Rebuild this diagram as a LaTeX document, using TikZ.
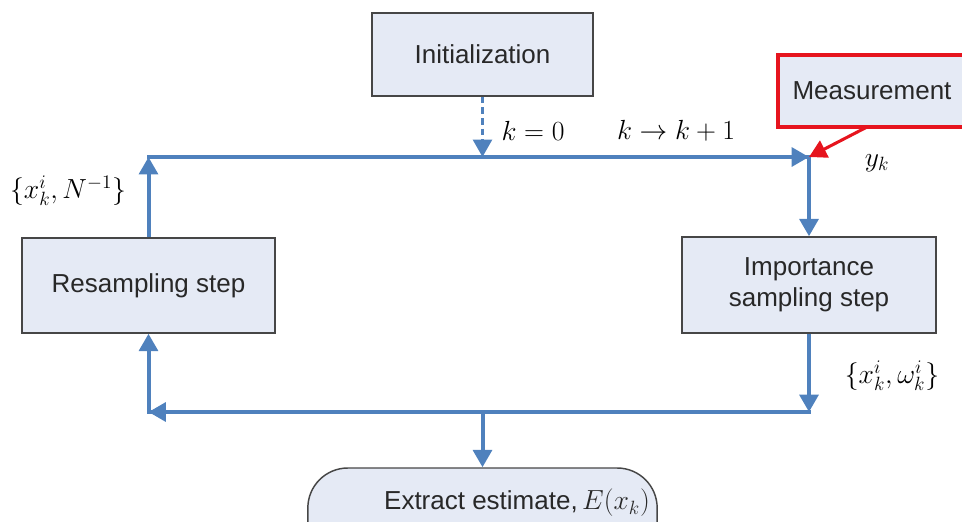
\documentclass[tikz,border=0pt]{standalone}
\usepackage{fontspec}
\setmainfont{Liberation Sans}
\usetikzlibrary{arrows.meta}
\definecolor{flowblue}{RGB}{79,129,189}
\definecolor{boxfill}{RGB}{229,234,245}
\definecolor{boxedge}{RGB}{70,70,70}
\definecolor{boxtext}{RGB}{40,40,40}
\definecolor{measred}{RGB}{230,20,30}
\tikzset{
  stepbox/.style={draw=boxedge, line width=1.1pt, fill=boxfill, inner sep=0pt,
    text=boxtext, font=\fontsize{19.5}{23}\selectfont, align=center},
  tip/.style={-{Triangle[length=13pt,width=14pt]}},
  flow/.style={draw=flowblue, line width=3pt, tip},
  flowline/.style={draw=flowblue, line width=3pt, line cap=rect},
  mathlbl/.style={inner sep=0pt, font=\fontsize{21.5}{26}\selectfont},
  smalllbl/.style={inner sep=0pt, font=\fontsize{20}{24}\selectfont},
}
\begin{document}
\begin{tikzpicture}[x=0.75pt,y=-0.75pt]
\useasboundingbox (0,0) rectangle (962,521);
\clip (0,0) rectangle (962,521);

% process boxes
\node[stepbox, minimum width=165.75pt, minimum height=62.25pt] (init) at (482.5,54.5) {Initialization};
\node[stepbox, draw=measred, line width=2.3pt, minimum width=141pt, minimum height=54pt] (meas) at (872,91) {Measurement};
\node[stepbox, minimum width=190.5pt, minimum height=72pt] (imp) at (809,285) {Importance\\sampling step};
\node[stepbox, minimum width=189.75pt, minimum height=71.25pt] (res) at (148.5,285.5) {Resampling step};
\node[stepbox, rounded corners=30pt, minimum width=262pt, minimum height=75pt] (est) at (482.5,518) {};
\node[inner sep=0pt, text=boxtext, font=\fontsize{19.5}{23}\selectfont] (esttxt) at (517,503) {Extract estimate,\,$E(x_k)$};

% loop corners
\coordinate (tl) at (148.5,157);
\coordinate (tm) at (482.5,157);
\coordinate (tr) at (809,157);
\coordinate (br) at (809,412);
\coordinate (bm) at (482.5,412);
\coordinate (bl) at (148.5,412);
\coordinate (measfoot) at (867,127);

% connectors
\draw[flow, dash pattern=on 5pt off 3pt, line width=2.5pt, line cap=butt] (init.south) -- (tm);
\draw[flowline] (tl) -- (tr);
\draw[flow] (tm) -- (tr);
\draw[flow] (tr) -- (imp.north);
\draw[flow] (imp.south) -- (br);
\draw[flowline] (br) -- (bl);
\draw[flow] (br) -- (bl);
\draw[flow] (bm) -- (est.north);
\draw[flow] (bl) -- (res.south);
\draw[flow] (res.north) -- (tl);
\draw[draw=measred, line width=2.3pt, tip] (measfoot) -- (tr);

% labels
\node[mathlbl] (kzero) at (533,131) {$k=0$};
\node[mathlbl] (kstep) at (676,131) {$k\rightarrow k+1$};
\node[mathlbl] (ylbl) at (877,163) {$y_k$};
\node[smalllbl] (reslbl) at (68,191) {$\{x_k^i, N^{-1}\}$};
\node[smalllbl] (implbl) at (892,376) {$\{x_k^i, \omega_k^i\}$};
\end{tikzpicture}
\end{document}
